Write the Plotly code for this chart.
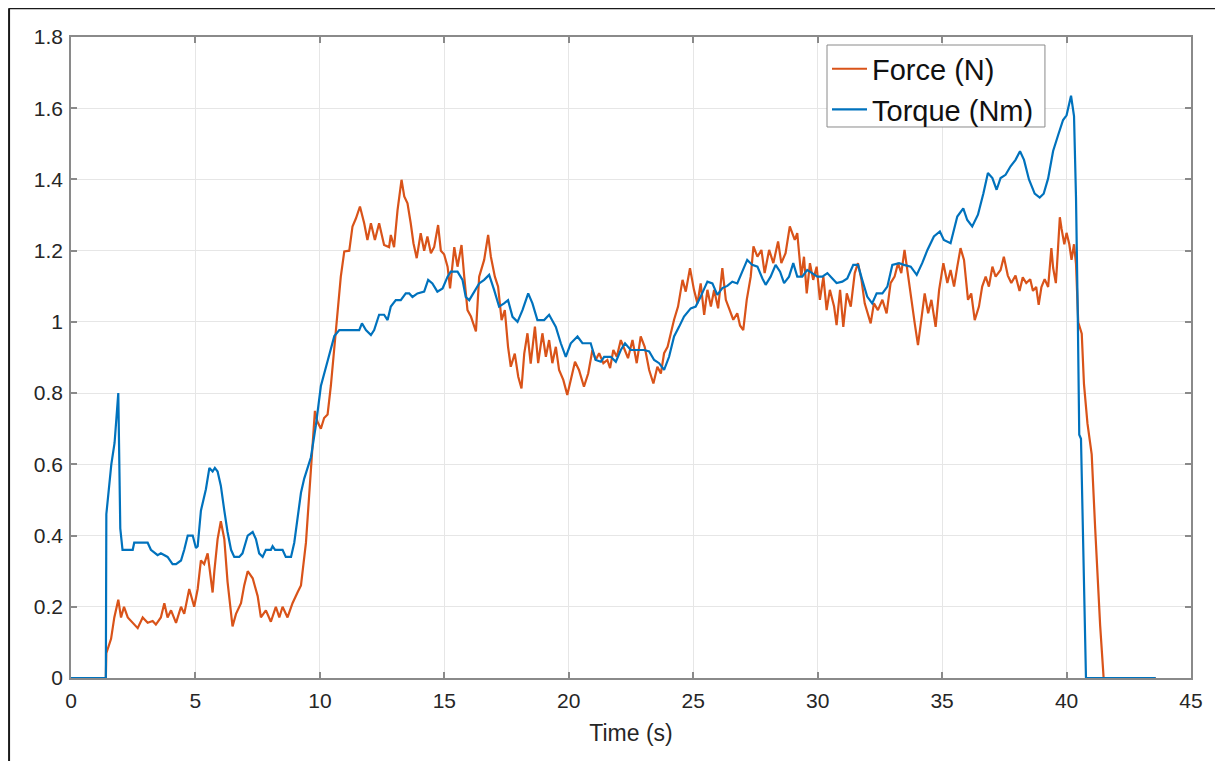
import plotly.graph_objects as go

# ---- data ----
torque_t = [0, 1.40, 1.42, 1.52, 1.62, 1.75, 1.90, 1.98, 2.07, 2.48, 2.54, 3.08, 3.21, 3.48, 3.61, 3.88, 4.08, 4.22, 4.42, 4.55,
            4.69, 4.89, 5.02, 5.09, 5.22, 5.42, 5.56, 5.69, 5.78, 5.89, 6.02, 6.16, 6.29, 6.43, 6.56, 6.76, 6.89, 7.10, 7.30, 7.43,
            7.56, 7.70, 7.83, 8.03, 8.10, 8.20, 8.50, 8.63, 8.84, 8.97, 9.10, 9.24, 9.37, 9.50, 9.64, 9.84, 10.04, 10.31, 10.58, 10.78,
            11.58, 11.69, 11.85, 12.05, 12.18, 12.38, 12.58, 12.72, 12.85, 13.05, 13.25, 13.45, 13.59, 13.72, 13.92, 14.19, 14.35, 14.52, 14.72, 14.93,
            15.13, 15.26, 15.53, 15.73, 15.86, 16.00, 16.17, 16.40, 16.60, 16.80, 17.00, 17.20, 17.40, 17.56, 17.74, 17.94, 18.14, 18.37, 18.54, 18.74,
            19.01, 19.21, 19.48, 19.68, 19.88, 20.08, 20.35, 20.55, 20.88, 21.08, 21.29, 21.42, 21.69, 21.89, 22.09, 22.26, 22.49, 23.03, 23.23, 23.43,
            23.63, 23.83, 24.03, 24.23, 24.43, 24.63, 24.90, 25.10, 25.30, 25.57, 25.77, 25.97, 26.17, 26.37, 26.57, 26.77, 26.97, 27.17, 27.37, 27.58,
            27.78, 27.91, 28.11, 28.31, 28.49, 28.65, 28.85, 29.02, 29.18, 29.38, 29.58, 29.78, 29.99, 30.19, 30.39, 30.59, 30.76, 30.99, 31.19, 31.43,
            31.62, 31.79, 31.99, 32.19, 32.37, 32.60, 32.80, 33.00, 33.27, 33.47, 33.74, 33.98, 34.20, 34.41, 34.67, 34.91, 35.07, 35.34, 35.61, 35.85,
            36.01, 36.21, 36.44, 36.66, 36.84, 37.02, 37.19, 37.35, 37.55, 37.75, 37.95, 38.13, 38.29, 38.49, 38.72, 38.92, 39.08, 39.26, 39.46, 39.66,
            39.86, 40.00, 40.11, 40.18, 40.30, 40.38, 40.45, 40.51, 40.58, 40.68, 40.78, 43.58]
torque_v = [0, 0, 0.46, 0.54, 0.60, 0.66, 0.80, 0.42, 0.36, 0.36, 0.38, 0.38, 0.36, 0.345, 0.35, 0.34, 0.32, 0.32, 0.33, 0.36,
            0.40, 0.40, 0.365, 0.37, 0.47, 0.53, 0.59, 0.58, 0.59, 0.58, 0.54, 0.47, 0.41, 0.36, 0.34, 0.34, 0.35, 0.40, 0.41, 0.39,
            0.35, 0.34, 0.36, 0.36, 0.37, 0.36, 0.36, 0.34, 0.34, 0.38, 0.45, 0.52, 0.56, 0.59, 0.62, 0.71, 0.82, 0.89, 0.96, 0.977,
            0.977, 0.996, 0.977, 0.963, 0.977, 1.02, 1.02, 1.005, 1.043, 1.061, 1.061, 1.08, 1.08, 1.07, 1.08, 1.085, 1.118, 1.108, 1.085, 1.094,
            1.127, 1.141, 1.141, 1.118, 1.07, 1.061, 1.08, 1.108, 1.118, 1.132, 1.09, 1.043, 1.052, 1.061, 1.014, 1.0, 1.033, 1.08, 1.052, 1.005,
            1.005, 1.02, 0.986, 0.94, 0.902, 0.94, 0.959, 0.94, 0.94, 0.893, 0.888, 0.902, 0.902, 0.888, 0.921, 0.94, 0.921, 0.921, 0.917, 0.893,
            0.884, 0.865, 0.902, 0.959, 0.986, 1.015, 1.038, 1.043, 1.071, 1.113, 1.108, 1.076, 1.095, 1.101, 1.113, 1.108, 1.141, 1.174, 1.16, 1.155,
            1.122, 1.104, 1.127, 1.16, 1.141, 1.109, 1.127, 1.165, 1.127, 1.127, 1.146, 1.137, 1.127, 1.127, 1.137, 1.122, 1.109, 1.113, 1.122, 1.16,
            1.16, 1.118, 1.071, 1.052, 1.08, 1.08, 1.099, 1.16, 1.165, 1.16, 1.155, 1.132, 1.165, 1.202, 1.24, 1.254, 1.23, 1.221, 1.296, 1.319,
            1.286, 1.268, 1.301, 1.361, 1.418, 1.404, 1.371, 1.404, 1.413, 1.437, 1.455, 1.479, 1.455, 1.40, 1.36, 1.349, 1.36, 1.403, 1.48, 1.524,
            1.567, 1.58, 1.611, 1.635, 1.578, 1.349, 1.021, 0.683, 0.672, 0.366, 0, 0]

force_t = [0, 1.40, 1.42, 1.61, 1.74, 1.90, 2.01, 2.13, 2.28, 2.48, 2.68, 2.88, 3.08, 3.28, 3.41, 3.61, 3.75, 3.88, 4.02, 4.22,
           4.42, 4.55, 4.75, 4.95, 5.09, 5.22, 5.35, 5.49, 5.69, 5.76, 5.89, 6.02, 6.16, 6.29, 6.49, 6.63, 6.83, 6.96, 7.10, 7.30,
           7.50, 7.63, 7.83, 8.03, 8.23, 8.37, 8.50, 8.70, 8.90, 9.10, 9.24, 9.44, 9.64, 9.80, 9.90, 10.04, 10.17, 10.31, 10.44, 10.58,
           10.71, 10.84, 10.98, 11.18, 11.31, 11.45, 11.61, 11.78, 11.91, 12.05, 12.21, 12.38, 12.58, 12.78, 12.85, 12.98, 13.12, 13.28, 13.39, 13.52,
           13.65, 13.76, 13.89, 14.05, 14.19, 14.32, 14.46, 14.59, 14.75, 14.86, 14.99, 15.13, 15.23, 15.40, 15.53, 15.69, 15.80, 15.93, 16.07, 16.27,
           16.40, 16.60, 16.76, 16.87, 17.03, 17.16, 17.30, 17.43, 17.56, 17.67, 17.83, 17.97, 18.10, 18.21, 18.34, 18.47, 18.64, 18.77, 18.94, 19.08,
           19.21, 19.34, 19.48, 19.61, 19.78, 19.94, 20.11, 20.25, 20.41, 20.61, 20.78, 20.95, 21.08, 21.22, 21.39, 21.55, 21.66, 21.79, 21.93, 22.09,
           22.25, 22.38, 22.56, 22.73, 22.89, 23.05, 23.23, 23.40, 23.56, 23.70, 23.83, 23.97, 24.10, 24.23, 24.39, 24.57, 24.70, 24.87, 25.03, 25.17,
           25.30, 25.44, 25.57, 25.71, 25.84, 26.00, 26.17, 26.31, 26.44, 26.61, 26.77, 26.88, 27.01, 27.15, 27.31, 27.42, 27.58, 27.74, 27.87, 28.05,
           28.22, 28.41, 28.54, 28.71, 28.88, 29.08, 29.18, 29.34, 29.45, 29.56, 29.69, 29.82, 29.96, 30.09, 30.23, 30.36, 30.49, 30.66, 30.76, 30.90,
           31.03, 31.17, 31.33, 31.49, 31.62, 31.76, 31.89, 32.13, 32.26, 32.42, 32.60, 32.77, 32.93, 33.09, 33.23, 33.36, 33.49, 33.60, 33.74, 33.90,
           34.03, 34.17, 34.30, 34.44, 34.57, 34.74, 34.88, 35.05, 35.21, 35.34, 35.48, 35.61, 35.74, 35.88, 36.04, 36.17, 36.31, 36.48, 36.61, 36.75,
           36.88, 37.02, 37.15, 37.35, 37.48, 37.64, 37.78, 37.95, 38.11, 38.24, 38.38, 38.54, 38.65, 38.78, 38.88, 38.99, 39.12, 39.26, 39.39, 39.46,
           39.57, 39.62, 39.73, 39.80, 39.91, 40.00, 40.11, 40.20, 40.30, 40.38, 40.47, 40.61, 40.70, 40.84, 41.01, 41.15, 41.35, 41.49, 43.58]
force_v = [0, 0, 0.07, 0.11, 0.17, 0.22, 0.17, 0.20, 0.17, 0.155, 0.14, 0.17, 0.155, 0.16, 0.15, 0.17, 0.21, 0.17, 0.19, 0.155,
           0.20, 0.18, 0.25, 0.20, 0.25, 0.33, 0.32, 0.35, 0.24, 0.30, 0.39, 0.44, 0.39, 0.27, 0.145, 0.18, 0.21, 0.26, 0.30, 0.28,
           0.23, 0.17, 0.19, 0.158, 0.20, 0.17, 0.20, 0.17, 0.21, 0.24, 0.26, 0.38, 0.57, 0.75, 0.72, 0.70, 0.73, 0.74, 0.82, 0.93,
           1.03, 1.127, 1.198, 1.20, 1.268, 1.291, 1.324, 1.277, 1.23, 1.277, 1.23, 1.277, 1.216, 1.21, 1.244, 1.21, 1.314, 1.399, 1.352, 1.333,
           1.277, 1.221, 1.179, 1.249, 1.20, 1.24, 1.193, 1.21, 1.272, 1.20, 1.19, 1.155, 1.094, 1.21, 1.155, 1.216, 1.127, 1.033, 1.015, 0.973,
           1.127, 1.174, 1.244, 1.183, 1.127, 1.099, 1.005, 1.033, 0.93, 0.874, 0.911, 0.846, 0.813, 0.911, 0.968, 0.883, 0.987, 0.884, 0.968, 0.902,
           0.949, 0.884, 0.93, 0.865, 0.837, 0.795, 0.846, 0.888, 0.865, 0.818, 0.855, 0.921, 0.893, 0.912, 0.884, 0.893, 0.87, 0.921, 0.902, 0.949,
           0.921, 0.898, 0.949, 0.884, 0.959, 0.93, 0.865, 0.827, 0.874, 0.855, 0.912, 0.93, 0.968, 1.006, 1.043, 1.118, 1.085, 1.151, 1.09, 1.052,
           1.108, 1.02, 1.09, 1.043, 1.09, 1.038, 1.151, 1.062, 1.038, 1.006, 1.024, 0.99, 0.977, 1.062, 1.127, 1.212, 1.183, 1.202, 1.137, 1.202,
           1.165, 1.226, 1.165, 1.193, 1.268, 1.23, 1.249, 1.127, 1.183, 1.08, 1.165, 1.118, 1.155, 1.062, 1.127, 1.033, 1.09, 1.043, 0.991, 1.09,
           0.986, 1.08, 1.043, 1.137, 1.165, 1.118, 1.052, 0.996, 1.052, 1.033, 1.062, 1.024, 1.109, 1.127, 1.165, 1.137, 1.202, 1.146, 1.062, 0.996,
           0.935, 1.005, 1.08, 1.024, 1.062, 0.986, 1.09, 1.165, 1.109, 1.146, 1.099, 1.155, 1.207, 1.174, 1.062, 1.08, 1.005, 1.043, 1.099, 1.127,
           1.099, 1.155, 1.127, 1.146, 1.183, 1.13, 1.109, 1.13, 1.087, 1.125, 1.109, 1.12, 1.087, 1.098, 1.048, 1.098, 1.12, 1.098, 1.207, 1.152,
           1.109, 1.163, 1.294, 1.261, 1.218, 1.25, 1.218, 1.174, 1.218, 1.163, 0.999, 0.967, 0.825, 0.715, 0.628, 0.42, 0.147, 0, 0]

x_ticks = [0, 5, 10, 15, 20, 25, 30, 35, 40, 45]
y_ticks = [0, 0.2, 0.4, 0.6, 0.8, 1, 1.2, 1.4, 1.6, 1.8]
series_names = ["Force (N)", "Torque (Nm)"]
x_title = "Time (s)"

FORCE_COLOR = "#D95319"
TORQUE_COLOR = "#0072BD"
FONT = "Liberation Sans, Arial, Helvetica, sans-serif"

fig = go.Figure()
fig.add_trace(go.Scatter(x=force_t, y=force_v, mode="lines", name=series_names[0],
                         line=dict(color=FORCE_COLOR, width=2.2)))
fig.add_trace(go.Scatter(x=torque_t, y=torque_v, mode="lines", name=series_names[1],
                         line=dict(color=TORQUE_COLOR, width=2.2)))

axis_common = dict(
    showline=True, linecolor="#8a8a8a", linewidth=1.5, mirror="ticks",
    ticks="inside", ticklen=6, tickcolor="#8a8a8a", tickwidth=1.5,
    showgrid=True, gridcolor="#e6e6e6", gridwidth=1,
    zeroline=False, layer="below traces",
    tickfont=dict(family=FONT, size=21, color="#262626"),
)

fig.update_xaxes(range=[0, 45], tickvals=x_ticks, ticklabelstandoff=3,
                 title=dict(text=x_title, font=dict(family=FONT, size=23, color="#262626"), standoff=14),
                 **axis_common)
fig.update_yaxes(range=[0, 1.8], tickvals=y_ticks, ticklabelstandoff=2, **axis_common)

# page body has an 8px margin: plot area lands at x 71..1191, y 37..678 of the window
fig.update_layout(
    width=1215, height=753,
    margin=dict(l=63, r=32, t=29, b=83),
    paper_bgcolor="white", plot_bgcolor="white",
    showlegend=True,
    legend=dict(x=0.675, y=0.99, xanchor="left", yanchor="top",
                bgcolor="rgba(0,0,0,0)", borderwidth=0,
                font=dict(family=FONT, size=29, color="#111111"),
                itemwidth=35, tracegroupgap=0),
    shapes=[
        # legend box
        dict(type="rect", xref="paper", yref="paper", x0=0.675, x1=0.8696, y0=0.8596, y1=0.9875,
             fillcolor="white", line=dict(color="#8a8a8a", width=1), layer="above"),
        # outer frame (left and top edges)
        dict(type="line", xref="paper", yref="paper", x0=-0.0553, x1=-0.0553, y0=1.045, y1=-0.2,
             line=dict(color="#1a1a1a", width=2)),
        dict(type="line", xref="paper", yref="paper", x0=-0.0553, x1=1.05, y0=1.045, y1=1.045,
             line=dict(color="#1a1a1a", width=2)),
    ],
)

fig.write_html("out.html")
